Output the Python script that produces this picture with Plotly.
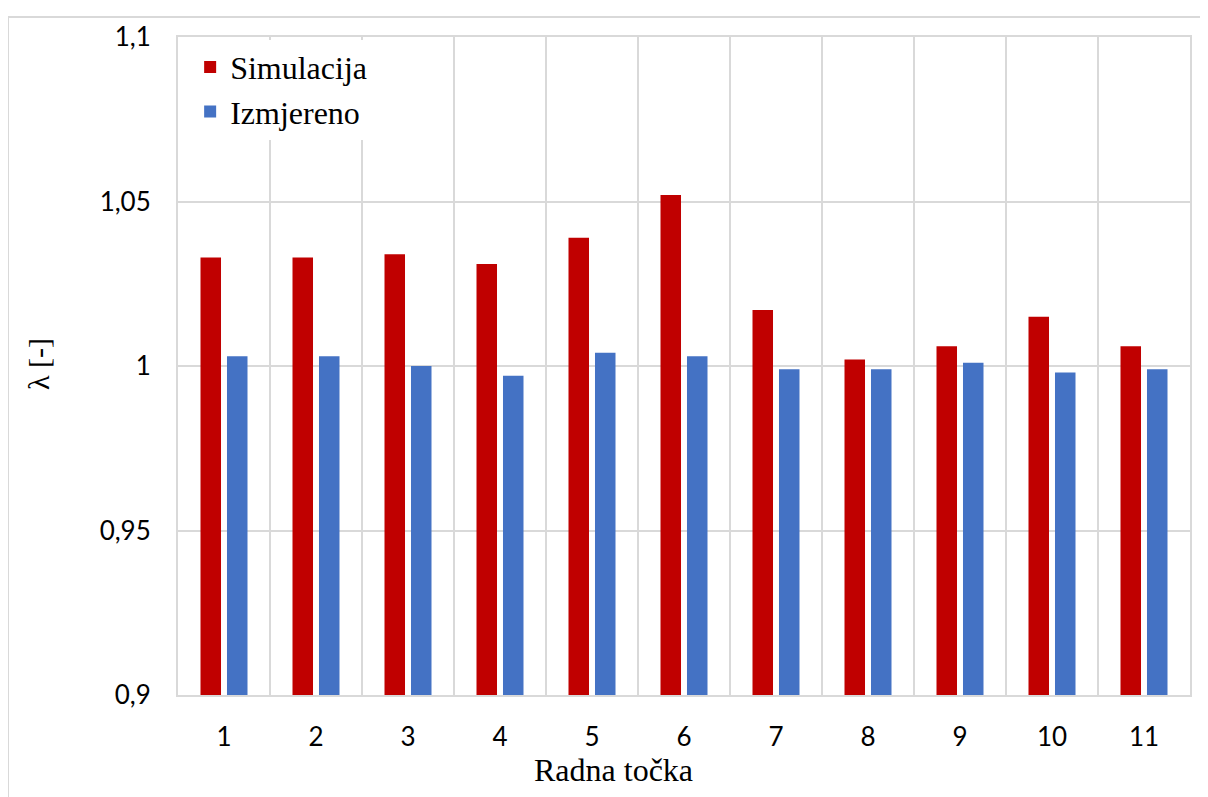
import plotly.graph_objects as go

categories = [1, 2, 3, 4, 5, 6, 7, 8, 9, 10, 11]
simulacija = [1.033, 1.033, 1.034, 1.031, 1.039, 1.052, 1.017, 1.002, 1.006, 1.015, 1.006]
izmjereno = [1.003, 1.003, 1.000, 0.997, 1.004, 1.003, 0.999, 0.999, 1.001, 0.998, 0.999]
y_ticks = [0.9, 0.95, 1.0, 1.05, 1.1]

RED = "#C00000"
BLUE = "#4472C4"
GRID = "#d9d9d9"
SERIF = "Liberation Serif, Times New Roman, serif"
SANS = "Lato, Open Sans, sans-serif"

fig = go.Figure()
fig.add_trace(go.Bar(x=categories, y=simulacija, name="Simulacija",
                     marker=dict(color=RED, line=dict(width=0)), legendgroup="a"))
fig.add_trace(go.Bar(x=categories, y=izmjereno, name="Izmjereno",
                     marker=dict(color=BLUE, line=dict(width=0)), legendgroup="b"))

# page body has an 8px margin, so the figure is sized/placed to compensate
W, H = 1200, 789
ML, MR, MT, MB = 170, 18, 25, 102
PW = W - ML - MR
PH = H - MT - MB

fig.update_layout(
    width=W, height=H,
    margin=dict(l=ML, r=MR, t=MT, b=MB),
    paper_bgcolor="white", plot_bgcolor="white",
    separators=", ",
    barmode="group", bargap=0.424, bargroupgap=0.226,
    showlegend=True,
    legend=dict(x=0.012, y=0.996, xanchor="left", yanchor="top",
                bgcolor="white", font=dict(family=SERIF, size=32, color="black"),
                traceorder="grouped", tracegroupgap=0),
    xaxis=dict(range=[0.5, 11.5], tickmode="array", tickvals=categories,
               ticktext=[str(c) for c in categories],
               showgrid=False, zeroline=False,
               showline=True, mirror=True, linecolor=GRID, linewidth=2,
               ticks="", ticklabelstandoff=18,
               tickfont=dict(family=SANS, size=26, color="black"),
               minor=dict(tick0=0.5, dtick=1, showgrid=True, gridcolor=GRID, gridwidth=2, ticks="")),
    yaxis=dict(range=[0.9, 1.1], tickmode="array", tickvals=y_ticks,
               showgrid=True, gridcolor=GRID, gridwidth=2, zeroline=False,
               showline=True, mirror=True, linecolor=GRID, linewidth=2,
               ticks="", ticklabelstandoff=20,
               tickfont=dict(family=SANS, size=26, color="black")),
    annotations=[
        dict(text="Radna točka", xref="paper", yref="paper",
             x=(613 - 178) / PW, y=-75 / PH, xanchor="center", yanchor="middle",
             showarrow=False, font=dict(family=SERIF, size=32, color="black")),
        dict(text="λ [-]", xref="paper", yref="paper", textangle=-90,
             x=(38 - 178) / PW, y=(695 - 362) / PH, xanchor="center", yanchor="middle",
             showarrow=False, font=dict(family=SERIF, size=30, color="black")),
    ],
    shapes=[
        dict(type="line", xref="paper", yref="paper",
             x0=-ML / PW, x1=1.2, y0=1 + (MT - 5) / PH, y1=1 + (MT - 5) / PH,
             line=dict(color=GRID, width=2), layer="below"),
        dict(type="line", xref="paper", yref="paper",
             x0=-ML / PW, x1=-ML / PW, y0=1 + (MT - 5) / PH, y1=-0.5,
             line=dict(color=GRID, width=2), layer="below"),
    ],
)

fig.write_html("out.html")
